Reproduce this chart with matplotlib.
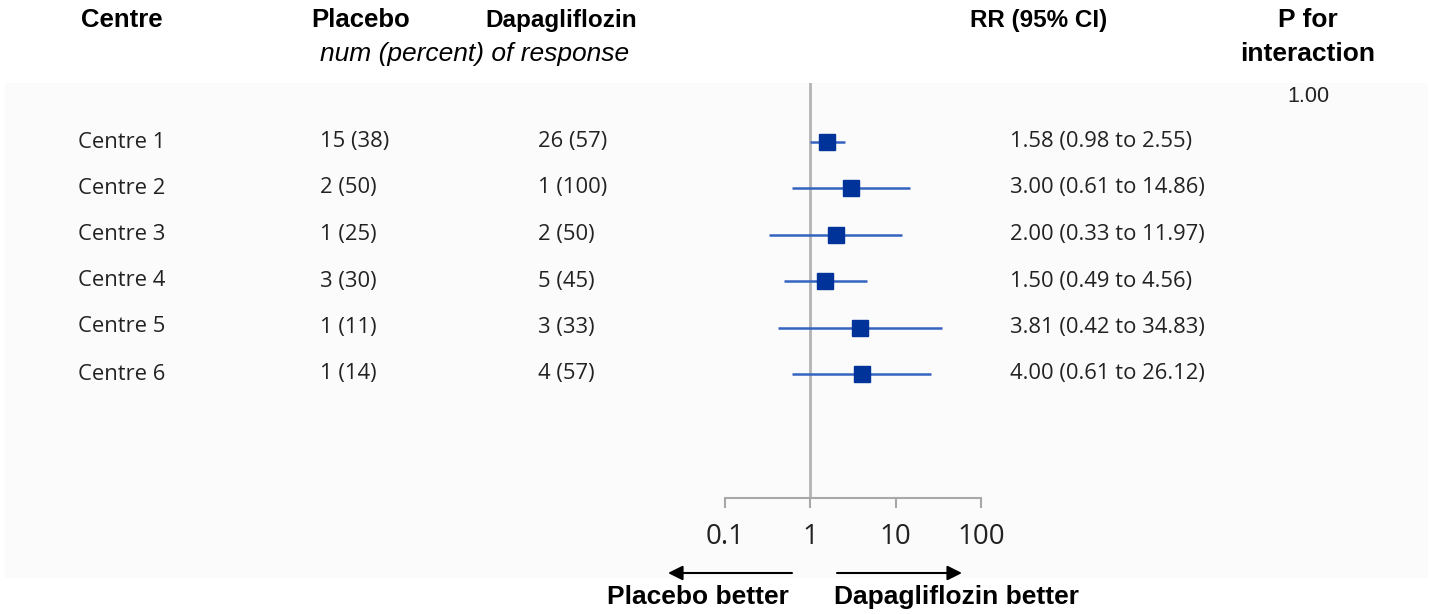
import matplotlib
matplotlib.use("Agg")
import matplotlib.pyplot as plt
from matplotlib.patches import Rectangle, FancyArrowPatch
import numpy as np

# ---- data ----
centres = ["Centre 1", "Centre 2", "Centre 3", "Centre 4", "Centre 5", "Centre 6"]
placebo_txt = ["15 (38)", "2 (50)", "1 (25)", "3 (30)", "1 (11)", "1 (14)"]
dapa_txt = ["26 (57)", "1 (100)", "2 (50)", "5 (45)", "3 (33)", "4 (57)"]
rr = [1.58, 3.00, 2.00, 1.50, 3.81, 4.00]
lo = [0.98, 0.61, 0.33, 0.49, 0.42, 0.61]
hi = [2.55, 14.86, 11.97, 4.56, 34.83, 26.12]
p_interaction = "1.00"
xticks = [0.1, 1, 10, 100]
xticklabels = ["0.1", "1", "10", "100"]

W, H = 1440, 614
fig = plt.figure(figsize=(W / 100, H / 100), dpi=100)
fig.patch.set_facecolor("white")

def fx(px):
    return px / W

def fy(py):
    return 1 - py / H

# faint panel
fig.patches.append(Rectangle((fx(5), fy(578)), fx(1428) - fx(5), fy(83) - fy(578),
                             transform=fig.transFigure, facecolor="#fbfbfb",
                             edgecolor="none", zorder=-5))

ROW_FONT = ["Open Sans", "DejaVu Sans"]
HEAD_FONT = ["Liberation Sans", "DejaVu Sans"]

# forest axes
ax = fig.add_axes([fx(725), fy(498), fx(981) - fx(725), fy(83) - fy(498)])
ax.set_zorder(2)
ax.set_facecolor("none")
ax.set_xscale("log")
ax.set_xlim(0.1, 100)
ax.set_ylim(8.672, -0.271)
ax.axvline(1, color="#b4b4b4", lw=2, zorder=1)
ys = np.arange(1, len(centres) + 1)
for y, r, l, h in zip(ys, rr, lo, hi):
    ax.plot([l, h], [y, y], color="#3463c0", lw=1.8, zorder=2, solid_capstyle="butt")
ax.plot(rr, ys, linestyle="none", marker="s", markersize=11.5,
        markerfacecolor="#003399", markeredgecolor="#003399", zorder=3)
for s in ["left", "right", "top"]:
    ax.spines[s].set_visible(False)
ax.spines["bottom"].set_color("#a8a8a8")
ax.spines["bottom"].set_linewidth(1.5)
ax.set_yticks([])
ax.set_xticks(xticks)
ax.set_xticklabels(xticklabels, fontfamily=ROW_FONT, fontsize=20, color="#222222")
ax.xaxis.set_minor_locator(matplotlib.ticker.NullLocator())
ax.tick_params(axis="x", direction="out", length=7, width=1.5, color="#a8a8a8", pad=11)

# headers
hd = dict(fontfamily=HEAD_FONT, fontweight="bold", fontsize=17.5, ha="center", va="center", color="black")
fig.text(fx(122), fy(20), "Centre", **{**hd, "fontsize": 18.5})
fig.text(fx(361), fy(20), "Placebo", **{**hd, "fontsize": 18.5})
fig.text(fx(561), fy(20), "Dapagliflozin", **hd)
fig.text(fx(1039), fy(20), "RR (95% CI)", **hd)
fig.text(fx(1308), fy(20), "P for", **{**hd, "fontsize": 19})
fig.text(fx(1308), fy(54), "interaction", **{**hd, "fontsize": 19})
fig.text(fx(475), fy(54), "num (percent) of response", fontfamily=HEAD_FONT, fontstyle="italic",
         fontsize=19, ha="center", va="center", color="black")
fig.text(fx(1308), fy(97), p_interaction, fontfamily=HEAD_FONT, fontsize=15.5,
         ha="center", va="center", color="#222222")

# rows
rowy = [142, 188, 235, 281, 327, 374]
rd = dict(fontfamily=ROW_FONT, fontsize=15.8, ha="left", va="center", color="#222222")
for i in range(len(centres)):
    fig.text(fx(78), fy(rowy[i]), centres[i], **rd)
    fig.text(fx(320), fy(rowy[i]), placebo_txt[i], **rd)
    fig.text(fx(538), fy(rowy[i]), dapa_txt[i], **rd)
    fig.text(fx(1010), fy(rowy[i]), f"{rr[i]:.2f} ({lo[i]:.2f} to {hi[i]:.2f})", **rd)

# arrows
ap = dict(arrowstyle="-|>", color="black", lw=1.5, mutation_scale=22, shrinkA=0, shrinkB=0)
fig.add_artist(FancyArrowPatch((fx(792), fy(573)), (fx(668), fy(573)),
                               transform=fig.transFigure, **ap))
fig.add_artist(FancyArrowPatch((fx(837), fy(573)), (fx(962), fy(573)),
                               transform=fig.transFigure, **ap))
bd = {**hd, "fontsize": 19}
fig.text(fx(698), fy(597), "Placebo better", **bd)
fig.text(fx(956), fy(597), "Dapagliflozin better", **bd)

fig.savefig("out.png", dpi=100, facecolor="white")
